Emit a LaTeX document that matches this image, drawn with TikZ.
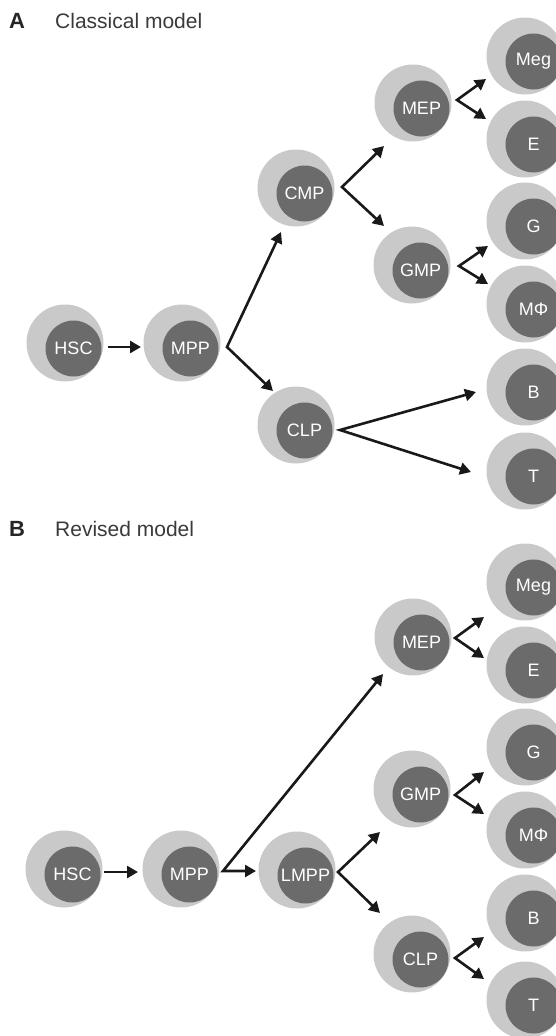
\documentclass[tikz,border=0pt]{standalone}
\usepackage{fontspec}
\setmainfont{Liberation Sans}
\usetikzlibrary{arrows.meta,calc}
\definecolor{outergray}{HTML}{C9C9C9}
\definecolor{innergray}{HTML}{6B6B6B}
\definecolor{titlegray}{HTML}{3A3A3A}
\tikzset{
  outercell/.style={circle, fill=outergray, minimum size=77pt, inner sep=0pt},
  innercell/.style={circle, fill=innergray, minimum size=56pt, inner sep=0pt, text=white, font=\fontsize{18}{18}\selectfont},
  conn/.style={line width=2.6pt, draw=black!90, -{Triangle[length=11pt,width=12pt]}},
  fork/.style={line width=2.6pt, draw=black!90, {Triangle[length=11pt,width=12pt]}-{Triangle[length=11pt,width=12pt]}},
  paneltitle/.style={anchor=base west, inner sep=0pt, text=titlegray, font=\fontsize{21}{22}\selectfont},
  panelletter/.style={anchor=base west, inner sep=0pt, text=black!85, font=\fontsize{22}{22}\selectfont\bfseries}
}
\newcommand\mkcell[4]{%
  \node[outercell] (#1) at (#2,#3) {};
  \node[innercell] (#1i) at ($(#1)+(8.5,5.5)$) {#4};}
\begin{document}
\begin{tikzpicture}[x=1pt,y=-1pt]
\useasboundingbox (0,0) rectangle (556,1036);
% ---------- Panel A ----------
\node[panelletter] (lblA) at (9,28) {A};
\node[paneltitle] (ttlA) at (55,28) {Classical model};
\mkcell{aHSC}{65}{343}{HSC}
\mkcell{aMPP}{182}{343}{MPP}
\mkcell{aCMP}{296}{188}{CMP}
\mkcell{aCLP}{296}{425}{CLP}
\mkcell{aMEP}{413}{103}{MEP}
\mkcell{aGMP}{412}{265}{GMP}
\mkcell{aMeg}{525}{56}{Meg}
\mkcell{aE}{525}{139}{E}
\mkcell{aG}{525}{221}{G}
\mkcell{aMF}{525}{304}{MΦ}
\mkcell{aB}{525}{387}{B}
\mkcell{aT}{525}{471}{T}
% coordinates for connectors
\coordinate (aHSCo) at (108,347);
\coordinate (aMPPin) at (141,347);
\coordinate (aMPPv) at (227,347);
\coordinate (aCMPin) at (281,232);
\coordinate (aCLPin) at (273,391);
\coordinate (aCMPv) at (342,187);
\coordinate (aMEPin) at (384,146);
\coordinate (aGMPin) at (384,226);
\coordinate (aMEPv) at (457,100);
\coordinate (aMegin) at (486,79);
\coordinate (aEin) at (486,119);
\coordinate (aGMPv) at (459,266);
\coordinate (aGin) at (488,246);
\coordinate (aMFin) at (488,284);
\coordinate (aCLPv) at (340,430);
\coordinate (aBin) at (476,392);
\coordinate (aTin) at (471,472);
\draw[conn] (aHSCo) -- (aMPPin);
\draw[fork] (aCMPin) -- (aMPPv) -- (aCLPin);
\draw[fork] (aMEPin) -- (aCMPv) -- (aGMPin);
\draw[fork] (aMegin) -- (aMEPv) -- (aEin);
\draw[fork] (aGin) -- (aGMPv) -- (aMFin);
\draw[fork] (aBin) -- (aCLPv) -- (aTin);
% ---------- Panel B ----------
\node[panelletter] (lblB) at (9,536) {B};
\node[paneltitle] (ttlB) at (55,536) {Revised model};
\mkcell{bHSC}{64}{869}{HSC}
\mkcell{bMPP}{181}{869}{MPP}
\mkcell{bLMPP}{297}{870}{LMPP}
\mkcell{bMEP}{413}{637}{MEP}
\mkcell{bGMP}{412}{789}{GMP}
\mkcell{bCLP}{412}{954}{CLP}
\mkcell{bMeg}{525}{582}{Meg}
\mkcell{bE}{525}{665}{E}
\mkcell{bG}{525}{747}{G}
\mkcell{bMF}{525}{830}{MΦ}
\mkcell{bB}{525}{913}{B}
\mkcell{bT}{525}{1000}{T}
\coordinate (bHSCo) at (104,872);
\coordinate (bMPPin) at (138,872);
\coordinate (bMPPv) at (223,871);
\coordinate (bMEPin) at (383,674);
\coordinate (bLMPPin) at (256,871);
\coordinate (bLMPPv) at (338,872);
\coordinate (bGMPin) at (380,832);
\coordinate (bCLPin) at (380,913);
\coordinate (bMEPv) at (455,638);
\coordinate (bMegin) at (484,617);
\coordinate (bEin) at (484,658);
\coordinate (bGMPv) at (455,795);
\coordinate (bGin) at (484,772);
\coordinate (bMFin) at (484,814);
\coordinate (bCLPv) at (455,958);
\coordinate (bBin) at (484,937);
\coordinate (bTin) at (484,979);
\draw[conn] (bHSCo) -- (bMPPin);
\draw[fork] (bMEPin) -- (bMPPv) -- (bLMPPin);
\draw[fork] (bGMPin) -- (bLMPPv) -- (bCLPin);
\draw[fork] (bMegin) -- (bMEPv) -- (bEin);
\draw[fork] (bGin) -- (bGMPv) -- (bMFin);
\draw[fork] (bBin) -- (bCLPv) -- (bTin);
\end{tikzpicture}
\end{document}
